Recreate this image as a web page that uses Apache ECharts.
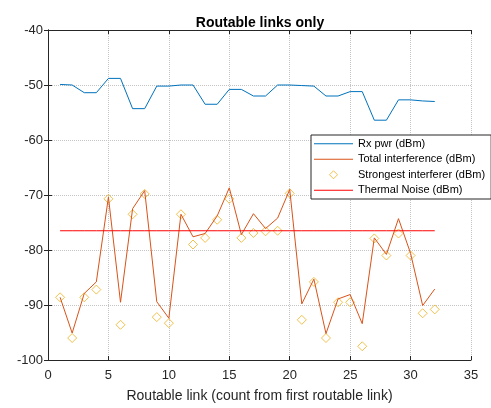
<!DOCTYPE html>
<html>
<head>
<meta charset="utf-8">
<script src="https://cdn.jsdelivr.net/npm/echarts@6/dist/echarts.min.js"></script>
<style>
  html, body { margin: 0; padding: 0; background: #fff; }
  #main { width: 491px; height: 408px; }
</style>
</head>
<body>
<div id="main"></div>
<script>
// link index (count from first routable link)
let links = [1, 2, 3, 4, 5, 6, 7, 8, 9, 10, 11, 12, 13, 14, 15, 16,
  17, 18, 19, 20, 21, 22, 23, 24, 25, 26, 27, 28, 29, 30, 31, 32];
// Rx pwr (dBm)
let rxPwr = [-49.9, -50.0, -51.4, -51.4, -48.8, -48.8, -54.3, -54.3, -50.2, -50.2, -50.0, -50.0, -53.5, -53.5, -50.8, -50.8,
  -52.0, -52.0, -50.0, -50.0, -50.1, -50.2, -52.0, -52.0, -51.2, -51.2, -56.4, -56.4, -52.7, -52.7, -52.9, -53.0];
// Total interference (dBm)
let totalIntf = [-88.6, -95.1, -87.9, -85.8, -70.4, -89.5, -72.5, -69.2, -89.4, -92.4, -73.5, -77.6, -77.0, -73.8, -68.7, -77.2,
  -73.4, -76.1, -74.2, -69.0, -89.8, -85.3, -95.2, -88.9, -88.1, -93.4, -77.8, -80.8, -74.3, -80.6, -90.1, -87.1];
// Strongest interferer (dBm)
let strongest = [-88.6, -96.0, -88.6, -87.2, -70.7, -93.6, -73.5, -69.8, -92.2, -93.3, -73.5, -79.0, -77.8, -74.5, -70.7, -77.8,
  -76.9, -76.6, -76.5, -69.7, -92.7, -85.8, -96.0, -89.5, -89.5, -97.5, -77.9, -81.0, -77.0, -81.0, -91.5, -90.8];
// Thermal Noise (dBm)
let thermal = [-76.5, -76.5, -76.5, -76.5, -76.5, -76.5, -76.5, -76.5, -76.5, -76.5, -76.5, -76.5, -76.5, -76.5, -76.5, -76.5,
  -76.5, -76.5, -76.5, -76.5, -76.5, -76.5, -76.5, -76.5, -76.5, -76.5, -76.5, -76.5, -76.5, -76.5, -76.5, -76.5];

let pairs = (vals) => links.map((x, i) => [x, vals[i]]);

let axisColor = '#262626';
let font = 'Liberation Sans, Arial, Helvetica, sans-serif';
// legend glyphs: thin line / hollow diamond
let lineIcon = 'path://M0,0h38v1h-38z';
let diamondIcon = 'path://M4,0L8,4L4,8L0,4Z';

let myChart = echarts.init(document.getElementById('main'));

let option = {
  backgroundColor: '#fff',
  animation: false,
  title: {
    text: 'Routable links only',
    left: 255,
    top: 11,
    textAlign: 'center',
    textStyle: { color: '#000', fontSize: 14, fontWeight: 'bold', fontFamily: font }
  },
  grid: { left: 48, top: 30, width: 423, height: 331, containLabel: false },
  legend: {
    orient: 'vertical',
    left: 311,
    top: 135,
    selectedMode: false,
    backgroundColor: '#fff',
    borderColor: axisColor,
    borderWidth: 1,
    borderRadius: 0,
    padding: [1, 6, 1, 3],
    itemWidth: 39,
    itemHeight: 8,
    itemGap: 0,
    textStyle: { color: '#000', fontSize: 11, fontFamily: font, lineHeight: 15.5 },
    data: [
      { name: 'Rx pwr (dBm)', icon: lineIcon },
      { name: 'Total interference (dBm)', icon: lineIcon },
      { name: 'Strongest interferer (dBm)', icon: diamondIcon,
        itemStyle: { color: 'rgba(0,0,0,0)', borderColor: '#EDB120', borderWidth: 1 } },
      { name: 'Thermal Noise (dBm)', icon: lineIcon }
    ]
  },
  xAxis: [{
    type: 'value',
    min: 0, max: 35, interval: 5,
    name: 'Routable link (count from first routable link)',
    nameLocation: 'middle',
    nameGap: 29,
    nameTextStyle: { color: axisColor, fontSize: 14, fontFamily: font },
    axisLine: { show: true, lineStyle: { color: axisColor, width: 1 } },
    axisTick: { show: true, inside: true, length: 4, lineStyle: { color: axisColor } },
    axisLabel: { color: axisColor, fontSize: 13, fontFamily: font, margin: 9 },
    splitLine: { show: true, lineStyle: { color: '#c4c4c4', type: 'dotted', width: 1 } }
  }, {
    type: 'value',
    position: 'top',
    min: 0, max: 35, interval: 5,
    axisLine: { show: true, lineStyle: { color: axisColor, width: 1 } },
    axisTick: { show: true, inside: true, length: 4, lineStyle: { color: axisColor } },
    axisLabel: { show: false },
    splitLine: { show: false }
  }],
  yAxis: [{
    type: 'value',
    min: -100, max: -40, interval: 10,
    axisLine: { show: true, lineStyle: { color: axisColor, width: 1 } },
    axisTick: { show: true, inside: true, length: 4, lineStyle: { color: axisColor } },
    axisLabel: { color: axisColor, fontSize: 13, fontFamily: font, margin: 5 },
    splitLine: { show: true, lineStyle: { color: '#c4c4c4', type: 'dotted', width: 1 } }
  }, {
    type: 'value',
    position: 'right',
    min: -100, max: -40, interval: 10,
    axisLine: { show: true, lineStyle: { color: axisColor, width: 1 } },
    axisTick: { show: true, inside: true, length: 4, lineStyle: { color: axisColor } },
    axisLabel: { show: false },
    splitLine: { show: false }
  }],
  series: [
    {
      name: 'Rx pwr (dBm)',
      type: 'line',
      data: pairs(rxPwr),
      symbol: 'none',
      color: '#0072BD',
      lineStyle: { color: '#0072BD', width: 1 }
    },
    {
      name: 'Total interference (dBm)',
      type: 'line',
      data: pairs(totalIntf),
      symbol: 'none',
      color: '#D95319',
      lineStyle: { color: '#D95319', width: 1 }
    },
    {
      name: 'Strongest interferer (dBm)',
      type: 'scatter',
      data: pairs(strongest),
      symbol: 'diamond',
      symbolSize: 9,
      itemStyle: { color: 'rgba(0,0,0,0)', borderColor: '#EDB120', borderWidth: 1 }
    },
    {
      name: 'Thermal Noise (dBm)',
      type: 'line',
      data: pairs(thermal),
      symbol: 'none',
      color: '#FF0000',
      lineStyle: { color: '#FF0000', width: 1 }
    }
  ]
};

myChart.setOption(option);
</script>
</body>
</html>
